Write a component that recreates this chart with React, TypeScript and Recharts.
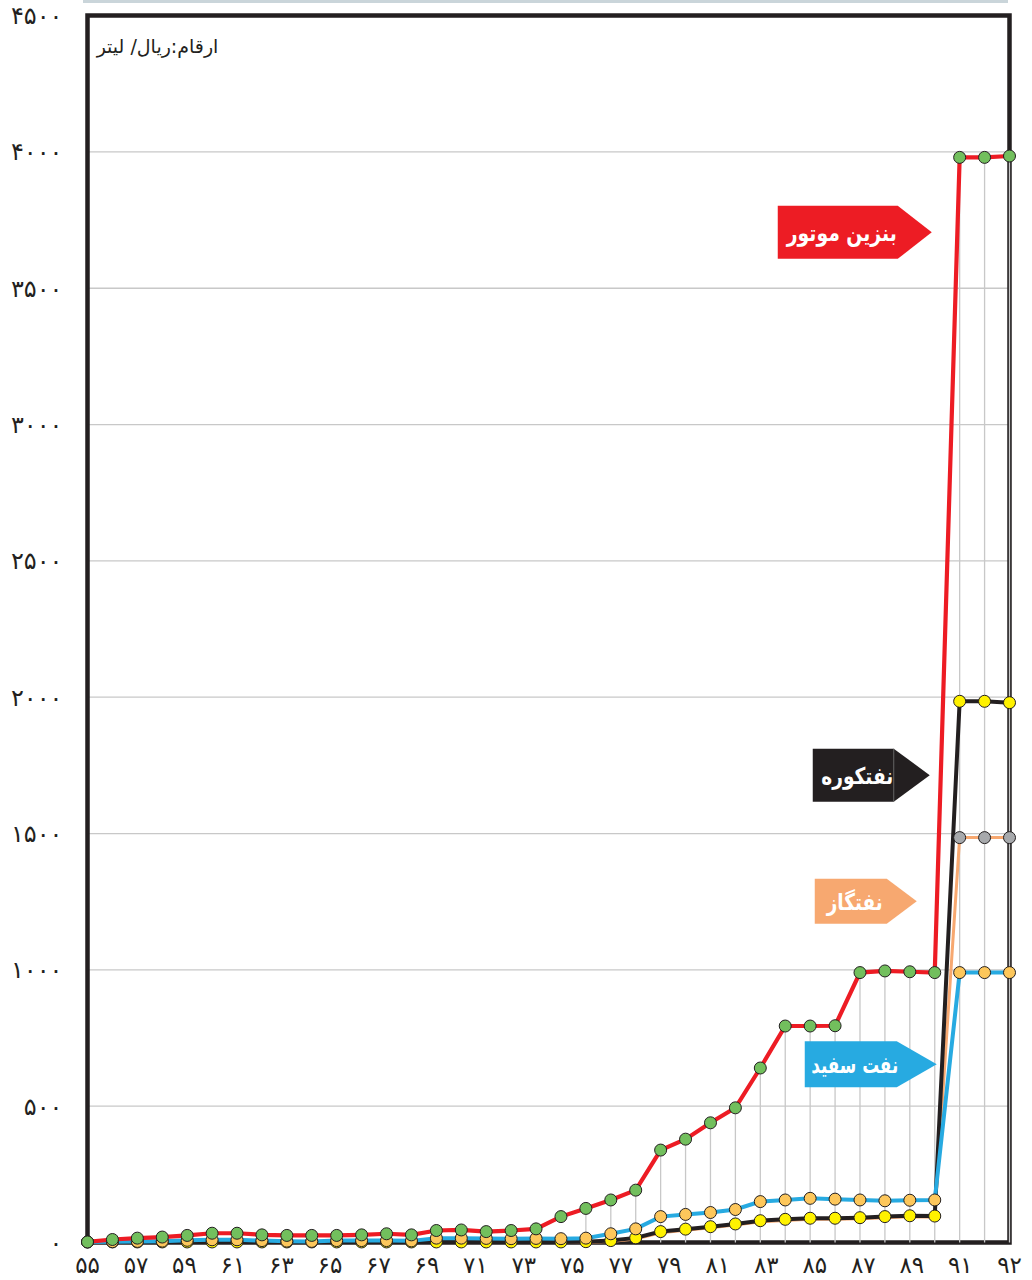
import React from 'react';
import {
  ComposedChart,
  Line,
  XAxis,
  YAxis,
  CartesianGrid,
  ReferenceLine,
  ReferenceArea,
  ReferenceDot,
} from 'recharts';

// ---- data (rials per litre, Iranian years 1355..1392) ----
const years = [55, 56, 57, 58, 59, 60, 61, 62, 63, 64, 65, 66, 67, 68, 69, 70, 71, 72, 73, 74, 75, 76, 77, 78, 79, 80, 81, 82, 83, 84, 85, 86, 87, 88, 89, 90, 91, 92];
const gasoline = [2, 11, 16, 20, 26, 34, 34, 28, 26, 26, 26, 28, 32, 28, 44, 46, 40, 44, 50, 95, 125, 156, 192, 339, 379, 439, 494, 640, 794, 794, 795, 990, 996, 993, 990, 3980, 3980, 3985];
const kerosene = [2, 3, 4, 5, 8, 10, 10, 7, 5, 4, 7, 7, 7, 6, 16, 16, 15, 14, 15, 14, 16, 32, 50, 95, 103, 110, 121, 150, 156, 162, 159, 156, 153, 155, 156, 990, 990, 990];
const fuelOil = [2, 2, 2, 2, 2, 2, 2, 2, 2, 2, 2, 2, 2, 2, 2, 2, 2, 2, 2, 2, 3, 7, 17, 40, 49, 58, 68, 80, 85, 89, 89, 91, 95, 98, 97, 1985, 1985, 1980];
const diesel = [1, 1, 1, 1, 1, 1, 1, 1, 1, 1, 1, 1, 1, 1, 1, 1, 1, 1, 1, 1, 1, 4, 13, 36, 45, 54, 64, 76, 81, 85, 85, 87, 91, 94, 93, 1485, 1485, 1485];

const yTicks = [0, 500, 1000, 1500, 2000, 2500, 3000, 3500, 4000, 4500];
const labelYears = [55, 57, 59, 61, 63, 65, 67, 69, 71, 73, 75, 77, 79, 81, 83, 85, 87, 89, 91];
const lastLabelYear = 92;
const dropLineFromYear = 75;
const reformYear = 90;

const unitTitle = 'ارقام:ریال/ لیتر';

const data = years.map((year, i) => ({
  year,
  gasoline: gasoline[i],
  kerosene: kerosene[i],
  fuelOil: fuelOil[i],
  diesel: diesel[i],
}));

const callouts = [
  { text: 'بنزین موتور', at: 89, value: 3705, color: '#ED1C24' },
  { text: 'نفتکوره', at: 89, value: 1714, color: '#231F20' },
  { text: 'نفتگاز', at: 89, value: 1252, color: '#F7A870' },
  { text: 'نفت سفید', at: 89, value: 654, color: '#27AAE1' },
];
// geometry of each callout box (tip offset, arrow length, box width, box height, text width)
const calloutBoxes = [
  { dx: -3, arrow: 34, w: 120, h: 53, tw: 110 },
  { dx: -5, arrow: 36, w: 81, h: 53, tw: 72 },
  { dx: -18, arrow: 30, w: 72, h: 45, tw: 56 },
  { dx: 2, arrow: 40, w: 92, h: 46, tw: 87 },
];

const FA_DIGITS = '۰۱۲۳۴۵۶۷۸۹';
const toFa = (n: number | string) => String(n).replace(/\d/g, (d) => FA_DIGITS[Number(d)]);

const FONT = '"DejaVu Sans", sans-serif';
const INK = '#231F20';

const makeCalloutShape = (idx: number) => (props: any) => {
  const { cx, cy } = props;
  const c = callouts[idx];
  const b = calloutBoxes[idx];
  const tipX = cx + b.dx;
  const right = tipX - b.arrow;
  const left = right - b.w;
  const top = cy - b.h / 2;
  const bottom = cy + b.h / 2;
  const pts = `${left},${top} ${right},${top} ${tipX},${cy} ${right},${bottom} ${left},${bottom}`;
  return (
    <g>
      <polygon points={pts} fill={c.color} />
      {idx === 1 && <line x1={right} y1={top} x2={right} y2={bottom} stroke="#777" strokeWidth={0.8} />}
      <text
        x={(left + right) / 2 + 4}
        y={cy + 1}
        fill="#FFFFFF"
        fontFamily={FONT}
        fontWeight="bold"
        fontSize={23}
        textAnchor="middle"
        dominantBaseline="central"
        textLength={b.tw}
        lengthAdjust="spacingAndGlyphs"
      >
        {c.text}
      </text>
    </g>
  );
};

const titleShape = (props: any) => {
  const { cx, cy } = props;
  return (
    <text
      x={cx + 70}
      y={cy + 30}
      fill={INK}
      fontFamily={FONT}
      fontSize={19}
      textAnchor="middle"
      dominantBaseline="central"
      direction="rtl"
    >
      {unitTitle}
    </text>
  );
};

const dot = (fill: string) => ({ r: 6, fill, stroke: INK, strokeWidth: 1 });

const dieselDot = (props: any) => {
  const { cx, cy, index, payload } = props;
  if (payload.year < reformYear) return <g key={`dd-${index}`} />;
  return <circle key={`dd-${index}`} cx={cx} cy={cy} r={6} fill="#A7A9AC" stroke={INK} strokeWidth={1} />;
};

const tickStyle = { fill: INK, fontSize: 23, fontFamily: FONT };

export default function App() {
  const dropYears = data.filter((d) => d.year >= dropLineFromYear);
  return (
    <div style={{ position: 'absolute', left: 0, top: 0, width: 1032, height: 1280, background: '#fff' }}>
      <div style={{ position: 'absolute', left: 83, top: 0, width: 925, height: 3, background: '#CAD5DA' }} />
      <ComposedChart
        width={1032}
        height={1280}
        data={data}
        margin={{ top: 15.6, right: 22.5, left: 0, bottom: 0 }}
      >
        <ReferenceArea
          x1={55}
          x2={92}
          y1={0}
          y2={4500}
          fill="none"
          fillOpacity={0}
          stroke={INK}
          strokeWidth={4.5}
          ifOverflow="visible"
        />
        <CartesianGrid horizontal vertical={false} stroke="#C8C8C8" strokeWidth={1.3} />
        <XAxis
          dataKey="year"
          height={1}
          axisLine={false}
          tickLine={false}
          interval={0}
          tickMargin={8}
          tickFormatter={(v: number) => (v === lastLabelYear ? toFa(v) : '')}
          tick={tickStyle}
        />
        <XAxis
          xAxisId="lab"
          dataKey="year"
          height={36.5}
          padding={{ left: 0, right: 25 }}
          axisLine={false}
          tickLine={false}
          interval={0}
          tickMargin={7}
          tickFormatter={(v: number) => (labelYears.includes(v) ? toFa(v) : '')}
          tick={tickStyle}
        />
        <YAxis
          domain={[0, 4500]}
          ticks={yTicks}
          width={87.5}
          axisLine={false}
          tickLine={false}
          tickMargin={19}
          interval={0}
          tickFormatter={(v: number) => toFa(v)}
          tick={{ fill: INK, fontSize: 24, fontFamily: FONT }}
        />
        {dropYears.map((d) => (
          <ReferenceLine
            key={`drop-${d.year}`}
            segment={[
              { x: d.year, y: 0 },
              { x: d.year, y: d.gasoline },
            ]}
            stroke="#C8C8C8"
            strokeWidth={1.3}
            ifOverflow="visible"
          />
        ))}
        <Line
          dataKey="diesel"
          type="linear"
          stroke="#F7A870"
          strokeWidth={3}
          dot={dieselDot}
          activeDot={false}
          isAnimationActive={false}
        />
        <Line
          dataKey="fuelOil"
          type="linear"
          stroke={INK}
          strokeWidth={4}
          dot={dot('#FFF200')}
          activeDot={false}
          isAnimationActive={false}
        />
        <Line
          dataKey="kerosene"
          type="linear"
          stroke="#27AAE1"
          strokeWidth={4}
          dot={dot('#FDC75B')}
          activeDot={false}
          isAnimationActive={false}
        />
        <Line
          dataKey="gasoline"
          type="linear"
          stroke="#ED1C24"
          strokeWidth={4.2}
          dot={dot('#72BF5D')}
          activeDot={false}
          isAnimationActive={false}
        />
        {callouts.map((c, i) => (
          <ReferenceDot
            key={`callout-${i}`}
            x={c.at}
            y={c.value}
            r={1}
            ifOverflow="visible"
            shape={makeCalloutShape(i)}
          />
        ))}
        <ReferenceDot x={55} y={4500} r={1} ifOverflow="visible" shape={titleShape} />
      </ComposedChart>
    </div>
  );
}
